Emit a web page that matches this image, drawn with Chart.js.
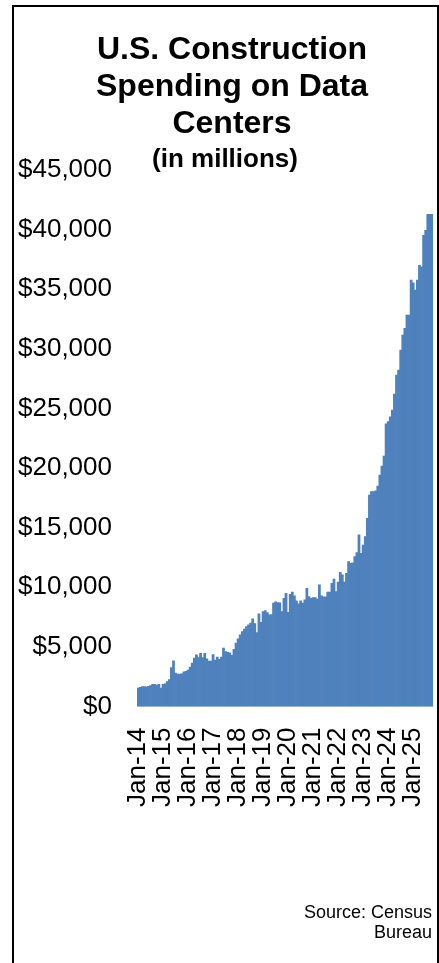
<!DOCTYPE html>
<html>
<head>
<meta charset="utf-8">
<script src="https://cdn.jsdelivr.net/npm/chart.js@4"></script>
<style>
  body { margin: 0; background: #fff; font-family: "Liberation Sans", Arial, sans-serif; }
  #wrap { position: relative; width: 439px; height: 963px; overflow: hidden; }
  #frame { position: absolute; left: 12px; top: 5px; width: 427px; height: 1000px; border: 2px solid #000; box-sizing: border-box; }
  canvas { position: absolute; left: 0; top: 0; }
  .title { position: absolute; left: 0; width: 464px; text-align: center; font-weight: bold; color: #000; }
  #t1 { top: 30px; font-size: 32px; line-height: 37px; }
  #t2 { top: 143px; font-size: 26px; line-height: 30px; left: -7px; }
  #source { position: absolute; right: 7px; top: 902px; text-align: right; font-size: 18px; line-height: 20px; color: #000; }
</style>
</head>
<body>
<div id="wrap">
  <div id="frame"></div>
  <canvas id="myChart" width="439" height="963"></canvas>
  <div class="title" id="t1">U.S. Construction<br>Spending on Data<br>Centers</div>
  <div class="title" id="t2">(in millions)</div>
  <div id="source">Source: Census<br>Bureau</div>
</div>
<script>
// monthly construction spending on data centers, $ millions
const spend2014 = [1540, 1600, 1680, 1680, 1650, 1700, 1750, 1870, 1850, 1800, 1870, 1540];
const spend2015 = [1870, 1900, 2100, 2250, 3270, 3830, 2800, 2710, 2710, 2750, 2900, 2940];
const spend2016 = [3050, 3300, 3640, 4060, 4330, 4100, 4470, 4100, 4470, 4000, 3800, 3800];
const spend2017 = [4350, 3900, 4150, 3950, 4150, 4890, 4600, 4550, 4500, 4300, 4800, 5310];
const spend2018 = [5670, 6010, 6290, 6490, 6700, 6850, 6990, 7350, 6950, 6200, 7770, 7070];
const spend2019 = [7960, 8050, 7880, 7690, 7700, 8670, 8770, 8720, 8700, 7960, 9080, 9500];
const spend2020 = [7900, 9400, 9590, 9280, 8860, 8610, 8860, 8670, 8940, 9920, 9220, 9080];
const spend2021 = [9130, 9130, 9000, 10200, 9280, 9190, 9190, 9590, 9590, 10340, 10680, 9640];
const spend2022 = [10430, 11260, 11040, 10430, 11180, 12150, 12010, 12060, 12570, 12900, 14390, 12850];
const spend2023 = [13550, 14250, 15790, 17740, 18020, 18020, 18100, 18490, 19420, 20170, 21010, 23700];
const spend2024 = [23900, 24300, 24860, 26200, 27800, 28220, 29890, 31150, 31710, 32830, 32830, 35760];
const spend2025 = [35530, 34920, 35760, 37010, 36870, 39530, 39950, 41290, 41290, 41290];

const years = ['14', '15', '16', '17', '18', '19', '20', '21', '22', '23', '24', '25'];
const monthNames = ['Jan', 'Feb', 'Mar', 'Apr', 'May', 'Jun', 'Jul', 'Aug', 'Sep', 'Oct', 'Nov', 'Dec'];
const yTicks = [0, 5000, 10000, 15000, 20000, 25000, 30000, 35000, 40000, 45000];

const values = [].concat(spend2014, spend2015, spend2016, spend2017, spend2018, spend2019,
  spend2020, spend2021, spend2022, spend2023, spend2024, spend2025);

const labels = [];
years.forEach(y => monthNames.forEach(m => labels.push(m + '-' + y)));
labels.length = values.length;

const ctx = document.getElementById('myChart');
new Chart(ctx, {
  type: 'bar',
  data: {
    labels: labels,
    datasets: [
      {
        data: values,
        backgroundColor: '#4f81bd',
        borderWidth: 0,
        barPercentage: 1,
        categoryPercentage: 1,
      },
    ],
  },
  options: {
    responsive: false,
    animation: false,
    layout: {padding: {top: 170, left: 17, right: 6, bottom: 135}},
    plugins: {legend: {display: false}, tooltip: {enabled: false}},
    scales: {
      x: {
        grid: {display: false, drawTicks: false},
        border: {display: true, color: '#d9d9d9', width: 1},
        afterFit: axis => { axis.paddingLeft = 0; axis.paddingRight = 0; },
        ticks: {
          autoSkip: false,
          maxRotation: 90,
          minRotation: 90,
          padding: 21,
          color: '#000',
          font: {family: 'Liberation Sans', size: 26},
          callback: function (val, i) {
            const l = labels[i];
            return l.startsWith('Jan') ? l : '';
          },
        },
      },
      y: {
        min: yTicks[0],
        max: yTicks[yTicks.length - 1],
        afterBuildTicks: axis => { axis.ticks = yTicks.map(v => ({value: v})); },
        afterFit: axis => { axis.width = 120; axis.paddingTop = 0; axis.paddingBottom = 0; },
        grid: {display: false, drawTicks: false},
        border: {display: false},
        ticks: {
          padding: 25,
          color: '#000',
          font: {family: 'Liberation Sans', size: 26},
          callback: v => '$' + v.toLocaleString('en-US'),
        },
      },
    },
  },
});
</script>
</body>
</html>
